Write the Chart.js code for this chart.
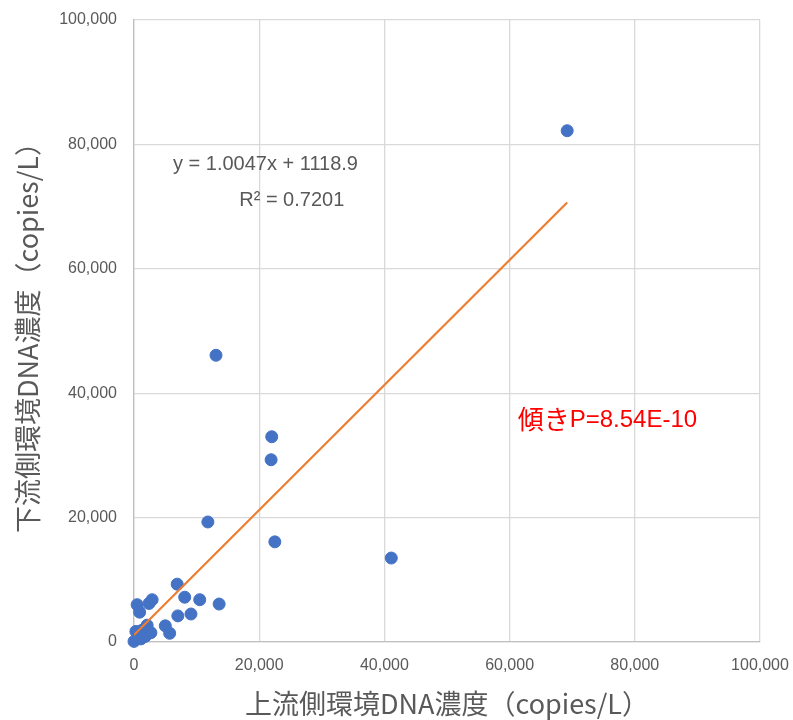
<!DOCTYPE html>
<html>
<head>
<meta charset="utf-8">
<script src="https://cdn.jsdelivr.net/npm/chart.js@4.4.0/dist/chart.umd.min.js"></script>
<style>
  html, body { margin: 0; padding: 0; background: #fff; }
  #wrap { width: 793px; height: 720px; }
</style>
</head>
<body>
<div id="wrap"><canvas id="c" width="793" height="720"></canvas></div>
<script>
// upstream (x) vs downstream (y) eDNA, copies/L
const upstream = [
  69200, 13100, 22000, 21900, 11800, 22500, 41100,
  6900, 8100, 10500, 13600, 7000, 9100, 5000, 5700,
  2900, 2400, 500, 900, 2100, 2700,
  300, 1100, 0, 1300, 1800, 700
];
const downstream = [
  82200, 46100, 33000, 29300, 19300, 16100, 13500,
  9300, 7200, 6800, 6100, 4200, 4500, 2600, 1400,
  6800, 6200, 6000, 4800, 2700, 1500,
  1700, 500, 100, 1900, 900, 800
];
const slope = 1.0047;
const intercept = 1118.9;
const xTicks = [0, 20000, 40000, 60000, 80000, 100000];
const yTicks = [0, 20000, 40000, 60000, 80000, 100000];

const points = upstream.map((x, i) => ({ x, y: downstream[i] }));
const xMin = Math.min(...upstream), xMax = Math.max(...upstream);
const trend = [xMin, xMax].map(x => ({ x, y: slope * x + intercept }));

const GRAY = '#595959';
const fmt = v => v.toLocaleString('en-US');

// text annotations placed in data coordinates
const notes = {
  id: 'notes',
  afterDatasetsDraw(chart) {
    const { ctx, scales: { x, y } } = chart;
    ctx.save();
    ctx.textBaseline = 'middle';
    ctx.textAlign = 'center';
    ctx.fillStyle = GRAY;
    ctx.font = '20px "Liberation Sans", sans-serif';
    ctx.fillText('y = 1.0047x + 1118.9', x.getPixelForValue(21000), y.getPixelForValue(76700));
    ctx.fillText('R² = 0.7201', x.getPixelForValue(25200), y.getPixelForValue(71000));
    ctx.textAlign = 'left';
    ctx.fillStyle = '#ff0000';
    ctx.font = '26px "Noto Sans CJK JP", sans-serif';
    const px = x.getPixelForValue(61300), py = y.getPixelForValue(35800);
    ctx.fillText('傾き', px, py);
    const w = ctx.measureText('傾き').width;
    ctx.font = '24px "Liberation Sans", sans-serif';
    ctx.fillText('P=8.54E-10', px + w, py + 1);
    ctx.restore();
  }
};

new Chart(document.getElementById('c'), {
  type: 'scatter',
  data: {
    datasets: [
      {
        label: 'data',
        data: points,
        backgroundColor: '#4472C4',
        borderColor: '#4472C4',
        pointRadius: 6,
        pointHoverRadius: 6,
        clip: false,
        order: 2
      },
      {
        label: 'trend',
        type: 'line',
        data: trend,
        borderColor: '#ED7D31',
        borderWidth: 2.2,
        pointRadius: 0,
        fill: false,
        order: 1
      }
    ]
  },
  options: {
    responsive: false,
    animation: false,
    layout: { padding: { top: 20, right: 33, left: 0, bottom: 0 } },
    plugins: { legend: { display: false }, tooltip: { enabled: false } },
    scales: {
      x: {
        type: 'linear',
        min: 0, max: 100000,
        afterBuildTicks: s => { s.ticks = xTicks.map(v => ({ value: v })); },
        afterFit: s => { s.height = 78; s.paddingLeft = 0; s.paddingRight = 0; },
        grid: { color: '#d9d9d9', lineWidth: 1.3, drawTicks: false },
        border: { color: '#bfbfbf', width: 1.3 },
        ticks: { color: GRAY, font: { family: 'Liberation Sans', size: 16 }, padding: 14, callback: fmt, maxRotation: 0 },
        title: {
          display: true, text: '上流側環境DNA濃度（copies/L）', color: GRAY,
          font: { family: 'Noto Sans CJK JP', size: 27 }, padding: { top: 0, bottom: 0 }
        }
      },
      y: {
        type: 'linear',
        min: 0, max: 100000,
        afterBuildTicks: s => { s.ticks = yTicks.map(v => ({ value: v })); },
        afterFit: s => { s.width = 134; s.paddingTop = 0; s.paddingBottom = 0; },
        grid: { color: '#d9d9d9', lineWidth: 1.3, drawTicks: false },
        border: { color: '#bfbfbf', width: 1.3 },
        ticks: { color: GRAY, font: { family: 'Liberation Sans', size: 16 }, padding: 17, callback: fmt },
        title: {
          display: true, text: '下流側環境DNA濃度（copies/L）', color: GRAY,
          font: { family: 'Noto Sans CJK JP', size: 27 }, padding: { top: 12, bottom: 0 }
        }
      }
    }
  },
  plugins: [notes]
});
</script>
</body>
</html>
